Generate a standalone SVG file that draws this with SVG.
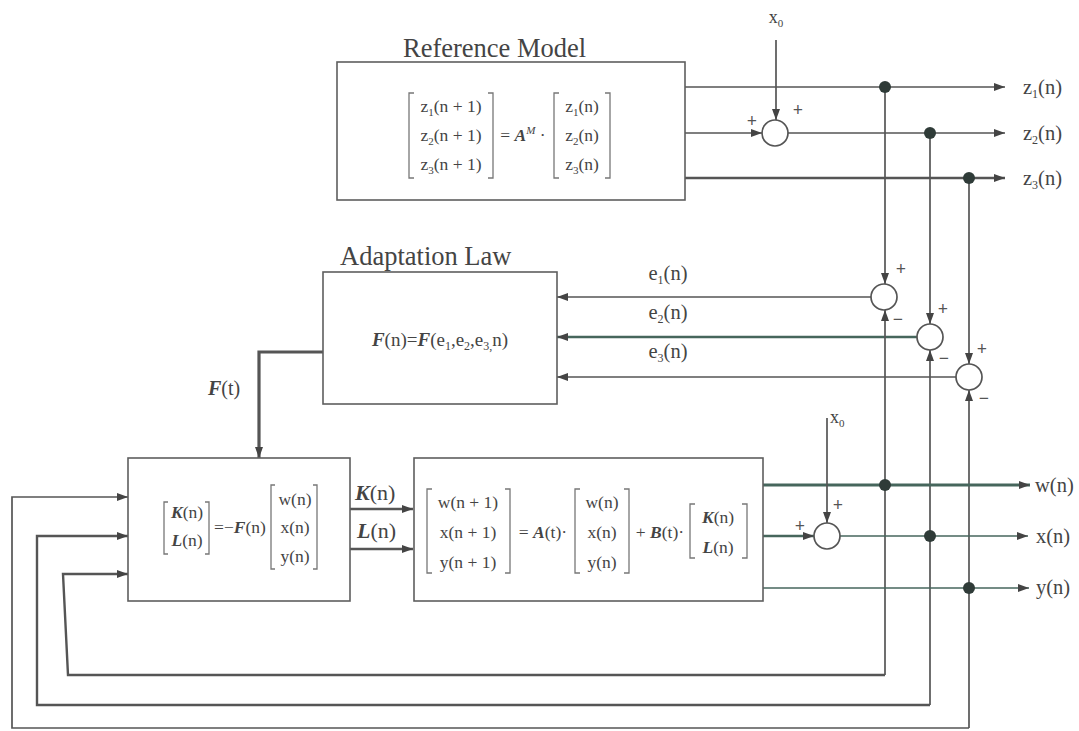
<svg xmlns="http://www.w3.org/2000/svg" width="1079" height="731" viewBox="0 0 1079 731">
<style>
.box{fill:#fff;stroke:#5e5e5e;stroke-width:1.6}
.ln{fill:none;stroke:#555;stroke-width:1.7}
.g{stroke:#46665c}
.thk{stroke-width:2.4}
.sum{fill:#fff;stroke:#555;stroke-width:1.7}
.dot{fill:#2f3b38}
text{font-family:"Liberation Serif","Times New Roman",serif;fill:#444}
.ttl{font-size:26.5px}
.lab{font-size:20.5px}
.eq{font-size:17.5px;text-anchor:middle}
.sg{font-size:18px;text-anchor:middle;dominant-baseline:central;font-weight:bold;fill:#555}
.br{fill:none;stroke:#777;stroke-width:1.3}
</style>
<defs>
<marker id="ah" viewBox="0 0 11 8" refX="11" refY="4" markerWidth="11" markerHeight="8" orient="auto" markerUnits="userSpaceOnUse"><path d="M0,0 L11,4 L0,8 z" fill="#444"/></marker>
</defs>

<g id="connectors">
<path class="ln" d="M685 87 H1005" marker-end="url(#ah)"/>
<path class="ln" d="M685 133 H762" marker-end="url(#ah)"/>
<path class="ln" d="M776 40 V120" marker-end="url(#ah)"/>
<path class="ln" d="M788 133 H1005" marker-end="url(#ah)"/>
<path class="ln thk" d="M685 178 H1005" marker-end="url(#ah)"/>
<path class="ln" d="M885 87 V284" marker-end="url(#ah)"/>
<path class="ln" d="M930 133 V324" marker-end="url(#ah)"/>
<path class="ln" d="M969 178 V364" marker-end="url(#ah)"/>
<path class="ln" d="M871 297 H557" marker-end="url(#ah)"/>
<path class="ln g thk" d="M917 337 H557" marker-end="url(#ah)"/>
<path class="ln" d="M956 377 H557" marker-end="url(#ah)"/>
<path class="ln" style="stroke-width:3.2" d="M323 352 H259 V458" marker-end="url(#ah)"/>
<path class="ln" d="M885 675 V310" marker-end="url(#ah)"/>
<path class="ln thk" d="M885 675 H68 L63 574 H128" marker-end="url(#ah)"/>
<path class="ln" d="M930 705 V350" marker-end="url(#ah)"/>
<path class="ln thk" d="M930 705 H37 V536 H128" marker-end="url(#ah)"/>
<path class="ln" d="M969 728 V390" marker-end="url(#ah)"/>
<path class="ln" d="M969 728 H12 V497 H128" marker-end="url(#ah)"/>
<path class="ln thk" d="M350 509 H413" marker-end="url(#ah)"/>
<path class="ln thk" d="M350 549 H413" marker-end="url(#ah)"/>
<path class="ln g" style="stroke-width:2.8" d="M763 485 H1030" marker-end="url(#ah)"/>
<path class="ln g thk" d="M763 536 H814" marker-end="url(#ah)"/>
<path class="ln g" d="M840 536 H1028" marker-end="url(#ah)"/>
<path class="ln" d="M827 418 V523" marker-end="url(#ah)"/>
<path class="ln g" d="M763 588 H1029" marker-end="url(#ah)"/>
<circle class="dot" cx="885" cy="87" r="6"/>
<circle class="dot" cx="930" cy="133" r="6"/>
<circle class="dot" cx="969" cy="178" r="6"/>
<circle class="dot" cx="885" cy="485" r="6"/>
<circle class="dot" cx="930" cy="536" r="6"/>
<circle class="dot" cx="969" cy="588" r="6"/>
</g>

<g id="reference-model">
<text class="ttl" x="403" y="57">Reference Model</text>
<rect class="box" x="337" y="62" width="348" height="138"/>
<path class="br" d="M414 93 H409 V178 H414 M488 93 H493 V178 H488 M559 93 H554 V178 H559 M605 93 H610 V178 H605"/>
<text class="eq" x="451" y="112">z<tspan font-size="11" dy="4">1</tspan><tspan dy="-4">(n + 1)</tspan></text>
<text class="eq" x="451" y="141">z<tspan font-size="11" dy="4">2</tspan><tspan dy="-4">(n + 1)</tspan></text>
<text class="eq" x="451" y="170">z<tspan font-size="11" dy="4">3</tspan><tspan dy="-4">(n + 1)</tspan></text>
<text class="eq" x="523" y="141">= <tspan font-weight="bold" font-style="italic">A</tspan><tspan font-size="11" dy="-7" font-style="italic">M</tspan><tspan dy="7"> ·</tspan></text>
<text class="eq" x="582" y="112">z<tspan font-size="11" dy="4">1</tspan><tspan dy="-4">(n)</tspan></text>
<text class="eq" x="582" y="141">z<tspan font-size="11" dy="4">2</tspan><tspan dy="-4">(n)</tspan></text>
<text class="eq" x="582" y="170">z<tspan font-size="11" dy="4">3</tspan><tspan dy="-4">(n)</tspan></text>
</g>

<g id="sum-top">
<circle class="sum" cx="775" cy="133" r="13"/>
<text x="776" y="23" text-anchor="middle" style="font-size:18px">x<tspan font-size="11" dy="4">0</tspan></text>
<text class="sg" x="752" y="121">+</text>
<text class="sg" x="798" y="110">+</text>
</g>

<g id="outputs-z">
<text class="lab" x="1023" y="94">z<tspan font-size="12" dy="4">1</tspan><tspan dy="-4">(n)</tspan></text>
<text class="lab" x="1023" y="140">z<tspan font-size="12" dy="4">2</tspan><tspan dy="-4">(n)</tspan></text>
<text class="lab" x="1023" y="185">z<tspan font-size="12" dy="4">3</tspan><tspan dy="-4">(n)</tspan></text>
</g>

<g id="adaptation-law">
<text class="ttl" x="340" y="265">Adaptation Law</text>
<rect class="box" x="323" y="272" width="234" height="132"/>
<text x="440" y="346" text-anchor="middle" style="font-size:19px"><tspan font-weight="bold" font-style="italic">F</tspan>(n)=<tspan font-weight="bold" font-style="italic">F</tspan>(e<tspan font-size="12" dy="4">1</tspan><tspan dy="-4">,e</tspan><tspan font-size="12" dy="4">2</tspan><tspan dy="-4">,e</tspan><tspan font-size="12" dy="4">3,</tspan><tspan dy="-4">n)</tspan></text>
</g>

<g id="error-labels">
<text class="lab" x="668" y="280" text-anchor="middle">e<tspan font-size="12" dy="4">1</tspan><tspan dy="-4">(n)</tspan></text>
<text class="lab" x="668" y="319" text-anchor="middle">e<tspan font-size="12" dy="4">2</tspan><tspan dy="-4">(n)</tspan></text>
<text class="lab" x="668" y="358" text-anchor="middle">e<tspan font-size="12" dy="4">3</tspan><tspan dy="-4">(n)</tspan></text>
</g>

<g id="sum-e1">
<circle class="sum" cx="884" cy="297" r="13"/>
<text class="sg" x="901" y="269">+</text>
<text class="sg" x="898" y="319">−</text>
</g>
<g id="sum-e2">
<circle class="sum" cx="930" cy="337" r="13"/>
<text class="sg" x="943" y="309">+</text>
<text class="sg" x="944" y="358">−</text>
</g>
<g id="sum-e3">
<circle class="sum" cx="969" cy="377" r="13"/>
<text class="sg" x="982" y="349">+</text>
<text class="sg" x="984" y="398">−</text>
</g>

<text x="208" y="395" style="font-size:20px"><tspan font-weight="bold" font-style="italic">F</tspan>(t)</text>

<g id="controller">
<rect class="box" x="128" y="458" width="222" height="143"/>
<path class="br" d="M168 502 H164 V554 H168 M205 502 H209 V554 H205 M275 485 H271 V569 H275 M313 485 H317 V569 H313"/>
<text class="eq" x="187" y="518"><tspan font-weight="bold" font-style="italic">K</tspan>(n)</text>
<text class="eq" x="187" y="546"><tspan font-weight="bold" font-style="italic">L</tspan>(n)</text>
<text class="eq" x="240" y="533">=−<tspan font-weight="bold" font-style="italic">F</tspan>(n)</text>
<text class="eq" x="295" y="505">w(n)</text>
<text class="eq" x="295" y="533">x(n)</text>
<text class="eq" x="295" y="562">y(n)</text>
</g>

<text x="355" y="500" style="font-size:22px"><tspan font-weight="bold" font-style="italic">K</tspan>(n)</text>
<text x="357" y="538" style="font-size:22px"><tspan font-weight="bold" font-style="italic">L</tspan>(n)</text>

<g id="plant">
<rect class="box" x="414" y="458" width="349" height="143"/>
<path class="br" d="M432 489 H427 V573 H432 M505 489 H510 V573 H505 M580 489 H575 V573 H580 M624 489 H629 V573 H624 M695 504 H690 V558 H695 M742 504 H747 V558 H742"/>
<text class="eq" x="468" y="508">w(n + 1)</text>
<text class="eq" x="468" y="538">x(n + 1)</text>
<text class="eq" x="468" y="568">y(n + 1)</text>
<text class="eq" x="543" y="538">= <tspan font-weight="bold" font-style="italic">A</tspan>(t)·</text>
<text class="eq" x="602" y="508">w(n)</text>
<text class="eq" x="602" y="538">x(n)</text>
<text class="eq" x="602" y="568">y(n)</text>
<text class="eq" x="660" y="538">+ <tspan font-weight="bold" font-style="italic">B</tspan>(t)·</text>
<text class="eq" x="718" y="523"><tspan font-weight="bold" font-style="italic">K</tspan>(n)</text>
<text class="eq" x="718" y="553"><tspan font-weight="bold" font-style="italic">L</tspan>(n)</text>
</g>

<g id="sum-bottom">
<circle class="sum" cx="827" cy="536" r="13"/>
<text x="830" y="423" style="font-size:18px">x<tspan font-size="11" dy="4">0</tspan></text>
<text class="sg" x="838" y="505">+</text>
<text class="sg" x="800" y="526">+</text>
</g>

<g id="outputs-state">
<text class="lab" x="1035" y="492">w(n)</text>
<text class="lab" x="1036" y="543">x(n)</text>
<text class="lab" x="1036" y="594">y(n)</text>
</g>
</svg>
